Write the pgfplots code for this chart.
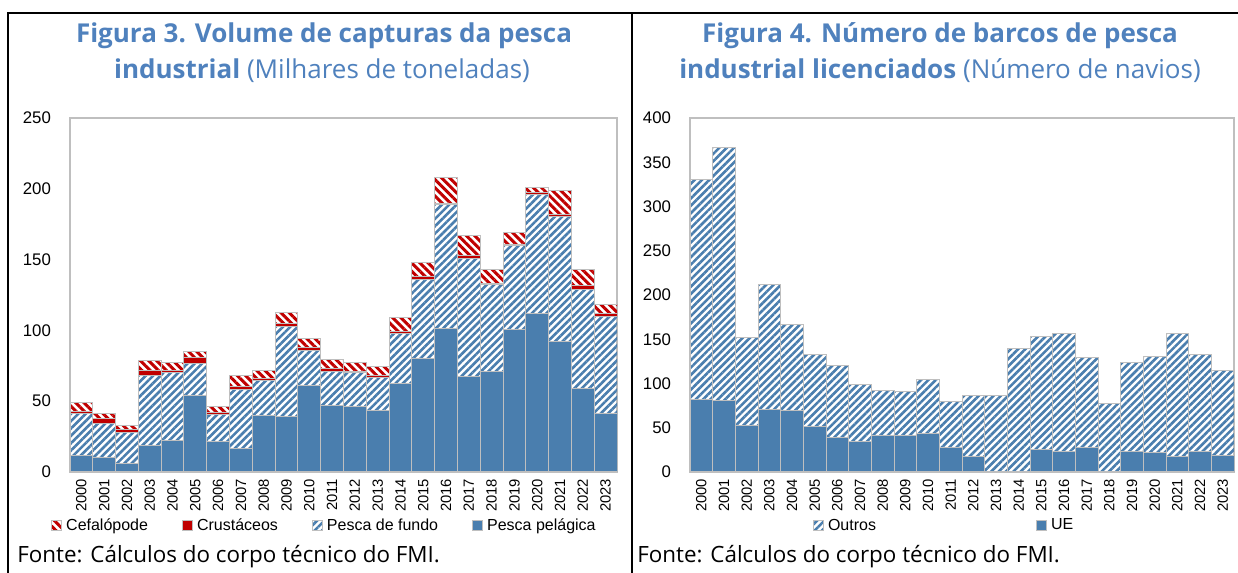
\documentclass[border=0pt]{standalone}
\usepackage{fontspec}
\setmainfont{Liberation Sans}
\newfontfamily\titlefont{Open Sans}
\usepackage{pgfplots}
\pgfplotsset{compat=1.18}
\usetikzlibrary{patterns.meta}
\definecolor{bblue}{HTML}{4A7EAE}
\definecolor{bred}{HTML}{C00000}
\definecolor{tblue}{HTML}{4F81BD}
\definecolor{edge}{HTML}{BFBFBF}

\pgfplotstableread{
x pel fundo crust cef
0 12 29 2 6
1 10.4 24 3.5 3.3
2 6.1 22 1.6 3.1
3 18.8 49.5 3.5 7
4 22.1 48 1.9 5
5 53.7 22.6 4.4 4.3
6 21.4 19.3 1.4 4.5
7 16.7 41.9 1.7 7.7
8 39.8 24.5 1.4 6.3
9 39.5 63.5 2 7.5
10 61.4 24.5 1.9 6.6
11 47 24 1.9 6.8
12 46.1 24 1.2 6.2
13 43.1 23.8 1.1 6.4
14 62.6 35.3 1.4 9.7
15 80.3 55.7 2 9.8
16 101 87.8 1 18.2
17 67.6 83.4 1.8 14.1
18 71.3 61 0.9 9.7
19 100.8 59 1.2 8
20 112 84.3 1.4 3.1
21 92 88.3 1.7 16.7
22 58.8 70.4 2.6 10.9
23 41.4 68.1 2.1 7
}\capturas

\pgfplotstableread{
x ue outros
0 82 248
1 81 286
2 52 100
3 71 141
4 69 97.5
5 51 81.5
6 39 81
7 35 63.7
8 41 51
9 41 49.5
10 44 60
11 28 51.5
12 17.3 68.6
13 0 86
14 0 140
15 25.6 127
16 23.4 133.3
17 28 101.6
18 0 77
19 23.4 100
20 21.5 108.8
21 17.3 139.4
22 23.4 109.6
23 18.8 95.7
}\barcos

\pgfplotsset{
  mybars/.style={
    ybar stacked, bar width=1, scale only axis,
    xmin=-0.5, xmax=23.5, ymin=0,
    xtick={0,...,23},
    xticklabels={2000,2001,2002,2003,2004,2005,2006,2007,2008,2009,2010,2011,2012,2013,2014,2015,2016,2017,2018,2019,2020,2021,2022,2023},
    x tick label style={rotate=90, anchor=east, font=\fontsize{7.4}{8}\selectfont},
    y tick label style={font=\fontsize{8.4}{10}\selectfont},
    /pgf/number format/assume math mode=true,
    major tick length=0pt,
    yticklabel style={xshift=-6pt},
    axis line style={draw=edge, line width=0.8pt},
    every axis plot/.append style={draw=edge, line width=0.5pt},
    legend cell align=left,
    legend image code/.code={\draw[#1] (0pt,-2.5pt) rectangle (5pt,2.5pt);},
    reverse legend,
  },
}

\begin{document}
\begin{tikzpicture}
\useasboundingbox (0pt,0pt) rectangle (619pt,286.5pt);
\draw[black, line width=1pt] (4pt,0pt) -- (4pt,280pt) -- (619pt,280pt);
\draw[black, line width=1pt] (316pt,0pt) -- (316pt,280pt);

\node[anchor=base, text=tblue, font=\titlefont\fontsize{13}{14}\selectfont\bfseries] at (162pt,265pt) {Figura 3. Volume de capturas da pesca};
\node[anchor=base, text=tblue, font=\titlefont\fontsize{13}{14}\selectfont] at (161pt,247pt) {\textbf{industrial} (Milhares de toneladas)};
\node[anchor=base, text=tblue, font=\titlefont\fontsize{13}{14}\selectfont\bfseries] at (470pt,265pt) {Figura 4. Número de barcos de pesca};
\node[anchor=base, text=tblue, font=\titlefont\fontsize{13}{14}\selectfont] at (470pt,247pt) {\textbf{industrial licenciados} (Número de navios)};

\node[anchor=base west, inner sep=0pt, font=\titlefont\fontsize{11.2}{12}\selectfont] at (8.5pt,5pt) {Fonte: Cálculos do corpo técnico do FMI.};
\node[anchor=base west, inner sep=0pt, font=\titlefont\fontsize{11.2}{12}\selectfont] at (318.5pt,5pt) {Fonte: Cálculos do corpo técnico do FMI.};

\begin{axis}[mybars, at={(35pt,50.5pt)}, anchor=south west,
  width=273.5pt, height=177pt, ymax=250, ytick={0,50,...,250},
  legend columns=4,
  legend style={at={(0.467,-0.1525)}, anchor=center, draw=none, fill=none,
    font=\fontsize{8}{9}\selectfont, inner sep=0pt,
    /tikz/every even column/.append style={column sep=15pt},
    nodes={inner xsep=2pt}},
]
\addplot[fill=bblue] table[x=x,y=pel]{\capturas};
\addplot[pattern={Lines[angle=45,distance=2.6pt,line width=1.3pt]}, pattern color=bblue] table[x=x,y=fundo]{\capturas};
\addplot[fill=bred] table[x=x,y=crust]{\capturas};
\addplot[pattern={Lines[angle=-45,distance=2.9pt,line width=1.5pt]}, pattern color=bred] table[x=x,y=cef]{\capturas};
\legend{Pesca pelágica, Pesca de fundo, Crustáceos, Cefalópode}
\end{axis}

\begin{axis}[mybars, at={(345pt,50.5pt)}, anchor=south west,
  width=272pt, height=177pt, ymax=400, ytick={0,50,...,400},
  legend columns=2,
  legend style={at={(0.469,-0.1525)}, anchor=center, draw=none, fill=none,
    font=\fontsize{8}{9}\selectfont, inner sep=0pt,
    /tikz/every even column/.append style={column sep=78pt},
    nodes={inner xsep=2pt}},
]
\addplot[fill=bblue] table[x=x,y=ue]{\barcos};
\addplot[pattern={Lines[angle=45,distance=2.6pt,line width=1.3pt]}, pattern color=bblue] table[x=x,y=outros]{\barcos};
\legend{UE, Outros}
\end{axis}
\end{tikzpicture}
\end{document}
